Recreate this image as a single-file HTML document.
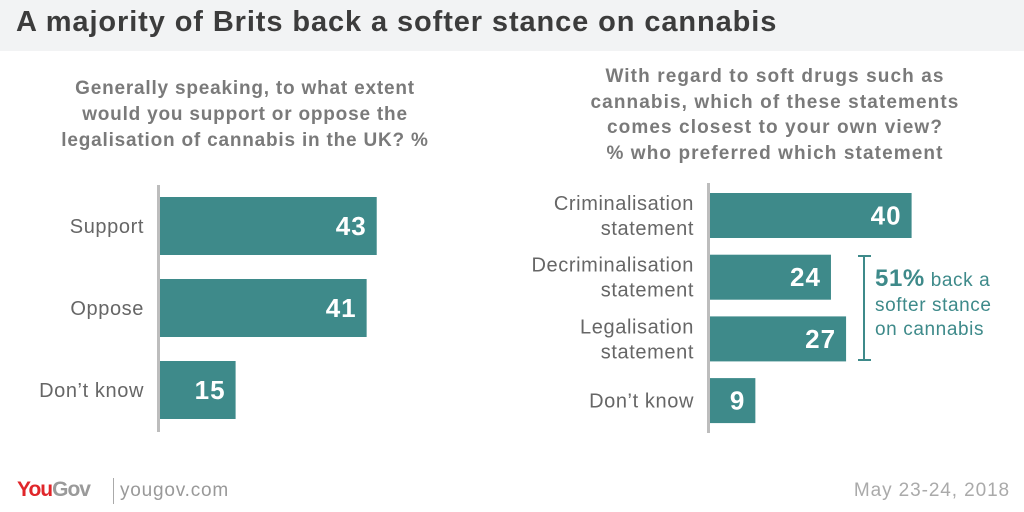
<!DOCTYPE html>
<html><head><meta charset="utf-8"><style>
body{margin:0;width:1024px;height:512px;background:#fff;font-family:"Liberation Sans",sans-serif;overflow:hidden;position:relative}
.t{position:absolute;white-space:nowrap}
</style></head><body>
<div style="position:absolute;left:0;top:0;width:1024px;height:51px;background:#f2f3f4"></div>
<div class="t" style="left:16px;top:6px;font-size:29px;font-weight:bold;color:#3c3c3c;letter-spacing:0.9px">A majority of Brits back a softer stance on cannabis</div>
<div class="t" style="left:20px;top:76px;width:450px;text-align:center;font-size:19px;font-weight:bold;color:#7a7a7a;line-height:26px;white-space:normal;letter-spacing:0.8px">Generally speaking, to what extent<br>would you support or oppose the<br>legalisation of cannabis in the UK? %</div>
<div class="t" style="left:550px;top:64px;width:450px;text-align:center;font-size:19px;font-weight:bold;color:#7a7a7a;line-height:25.5px;white-space:normal;letter-spacing:1.1px">With regard to soft drugs such as<br>cannabis, which of these statements<br>comes closest to your own view?<br>% who preferred which statement</div>
<svg id="c" width="1024" height="512" style="position:absolute;left:0;top:0"></svg>
<div class="t" style="left:17px;top:478px;font-size:21px;font-weight:bold;letter-spacing:-1px"><span style="color:#e0262a">You</span><span style="color:#9a9a9a">Gov</span></div>
<div style="position:absolute;left:113px;top:478px;width:1px;height:26px;background:#aaa"></div>
<div class="t" style="left:120px;top:480px;font-size:19px;color:#999;letter-spacing:0.8px">yougov.com</div>
<div class="t" style="right:14px;top:480px;font-size:19px;color:#aaa;letter-spacing:0.9px">May 23-24, 2018</div>
<div class="t" style="left:875px;top:267px;font-size:19px;color:#3e8a8a;line-height:24.5px;letter-spacing:0.6px"><b style="font-size:24px">51%</b> back a<br>softer stance<br>on cannabis</div>
<script>
const leftCats=["Support","Oppose","Don\u2019t know"];
const leftVals=[43,41,15];
const rightCats=[["Criminalisation","statement"],["Decriminalisation","statement"],["Legalisation","statement"],["Don\u2019t know"]];
const rightVals=[40,24,27,9];
const NS="http://www.w3.org/2000/svg",svg=document.getElementById('c');
function mk(t,a){const e=document.createElementNS(NS,t);for(const k in a)e.setAttribute(k,a[k]);svg.appendChild(e);return e;}
const sx=v=>v*5.04;
function chart(cats,vals,ax,top,step,h,axTop,axBot,name){
  const l=mk('rect',{x:ax-3,y:axTop,width:3,height:axBot-axTop,fill:'#bdbdbd'});
  
  
  vals.forEach((v,i)=>{
    const y=top+i*step;
    const r=mk('rect',{x:ax,y:y,width:sx(v),height:h,fill:'#3e8a8a'});
    
    
    const t=mk('text',{x:ax+sx(v)-10,y:y+h/2+9,'text-anchor':'end','font-size':26,'font-weight':'bold',fill:'#fff','font-family':'Liberation Sans','letter-spacing':1});
    t.textContent=v;
    
    
    const c=Array.isArray(cats[i])?cats[i]:[cats[i]];
    c.forEach((s,j)=>{
      const lt=mk('text',{x:ax-16,y:y+h/2+7+(j-(c.length-1)/2)*25,'text-anchor':'end','font-size':20,fill:'#666','font-family':'Liberation Sans','letter-spacing':0.6});
      lt.textContent=s;
      
      
    });
  });
}
chart(leftCats,leftVals,160,197,82,58,185,432,'left');
chart(rightCats,rightVals,710,193,61.7,45,183,433,'right');
const b=[[864,256,864,360],[858,256,871,256],[858,360,871,360]];
b.forEach(p=>{const e=mk('line',{x1:p[0],y1:p[1],x2:p[2],y2:p[3],stroke:'#3e8a8a','stroke-width':2});

});
</script>
</body></html>
